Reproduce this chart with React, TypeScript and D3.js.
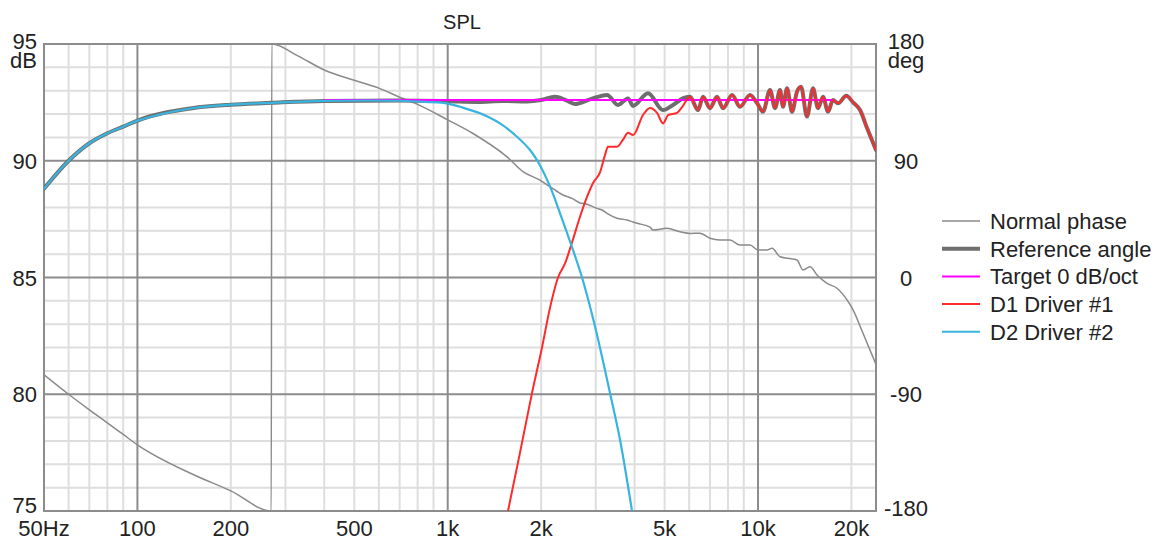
import React from "react";
import * as d3 from "d3";

const W = 1161;
const H = 541;

const freqTicks = [50, 100, 200, 500, 1000, 2000, 5000, 10000, 20000];
const freqTickLabels = ["50Hz", "100", "200", "500", "1k", "2k", "5k", "10k", "20k"];
const minorFreqs = [60, 70, 80, 90, 200, 300, 400, 500, 600, 700, 800, 900, 2000, 3000, 4000, 5000, 6000, 7000, 8000, 9000, 20000];
const majorFreqs = [100, 1000, 10000];
const splTicks = [95, 90, 85, 80, 75];
const phaseTicks = [180, 90, 0, -90, -180];
const majorSpl = [80, 85, 90];

const seriesNames = ["Normal phase", "Reference angle", "Target 0 dB/oct", "D1 Driver #1", "D2 Driver #2"];

// Normal phase [Hz, deg]
const normalPhase: [number, number][] = [
  [50, -75], [60, -90], [70, -102], [80, -112], [90, -121], [100, -129], [150, -151.5], [200, -164.5],
  [270, -180], [271, 180], [330, 170.7], [400, 160], [500, 152], [600, 146], [700, 139], [800, 133.5],
  [1000, 121.5], [1206, 111], [1553, 93], [1748, 81.6], [1984, 75], [2136, 70], [2352, 63.6], [2515, 61],
  [2669, 57.5], [2760, 57], [3028, 53.3], [3143, 52], [3261, 49.5], [3512, 45.7], [3782, 44.3], [3956, 42.8],
  [4074, 41.8], [4487, 38.9], [4587, 36.6], [5089, 37.9], [5606, 35.3], [6039, 34], [6503, 34.1], [7002, 30.2],
  [7544, 28.9], [8124, 28.9], [8750, 25], [9424, 25], [10000, 21.2], [10691, 21.2], [11095, 22.5], [11773, 16],
  [12494, 14.8], [13355, 13.5], [13964, 5.8], [14707, 8.3], [15494, 2], [16690, -4.5], [17970, -8.3],
  [19355, -17.3], [20241, -25], [21796, -43], [24000, -67],
];

// High-frequency part shared by reference sum and D1 [Hz, dB]
const highRipple: [number, number][] = [
  [6039, 92.74], [6407, 92.17], [6650, 92.74], [7002, 92.25], [7376, 92.74], [7714, 92.25], [8247, 92.82],
  [8750, 92.31], [9424, 92.82], [9926, 92.47], [10378, 92.1], [10932, 93.03], [11345, 92.25], [11773, 93.03],
  [12039, 92.31], [12401, 93.1], [12870, 92.1], [13355, 92.96], [13758, 93.17], [14383, 91.89], [15040, 93.1],
  [15609, 92.25], [16199, 92.74], [16811, 92.1], [17446, 92.6], [18104, 92.46], [19250, 92.78], [20241, 92.5],
  [21320, 92.17], [22456, 91.4], [24000, 90.46],
];

const referenceLow: [number, number][] = [
  [50, 88.8], [60, 90.0], [70, 90.75], [80, 91.18], [90, 91.46], [100, 91.72], [150, 92.25], [200, 92.4],
  [270, 92.48], [400, 92.56], [700, 92.58], [1000, 92.55], [1250, 92.52], [1500, 92.56], [1800, 92.54],
  [2000, 92.6], [2217, 92.74], [2400, 92.6], [2572, 92.43], [2875, 92.63], [3261, 92.82], [3538, 92.39],
  [3811, 92.67], [3956, 92.35], [4421, 92.89], [4942, 92.17], [5322, 92.39], [5800, 92.7],
];

const driver1Low: [number, number][] = [
  [1564, 75], [1710, 77.5], [1869, 80.05], [2013, 82.0], [2136, 83.7], [2267, 85.0], [2388, 85.6], [2515, 86.5],
  [2669, 87.6], [2811, 88.45], [2940, 89.05], [3096, 89.5], [3213, 90.25], [3285, 90.6], [3512, 90.6],
  [3672, 90.9], [3811, 91.2], [3956, 91.1], [4260, 91.96], [4487, 92.26], [4726, 92.05], [4942, 91.6],
  [5129, 91.95], [5483, 92.05], [5691, 92.3],
];

const driver2: [number, number][] = [
  [50, 88.8], [60, 90.0], [70, 90.75], [80, 91.18], [90, 91.46], [100, 91.72], [150, 92.25], [200, 92.4],
  [270, 92.48], [400, 92.56], [550, 92.58], [700, 92.57], [850, 92.52], [1000, 92.45], [1095, 92.31],
  [1271, 92.03], [1474, 91.6], [1672, 91.03], [1842, 90.46], [1984, 89.8], [2136, 88.9], [2301, 87.75],
  [2515, 86.3], [2709, 85.0], [2984, 82.9], [3334, 80.05], [3592, 78.04], [3926, 75.0],
];

const targetLevel = 92.6;
const targetRange = [400, 17446];

const referenceAngle = referenceLow.concat(highRipple);
const driver1 = driver1Low.concat(highRipple);
const target: [number, number][] = [[targetRange[0], targetLevel], [targetRange[1], targetLevel]];

const FONT = "'Liberation Sans', Arial, sans-serif";
const FS = 22;

export default function App() {
  const left = 44, right = 876, top = 44, bottom = 511;
  const x = d3.scaleLog().domain([50, 24000]).range([left, right]);
  const y = d3.scaleLinear().domain([75, 95]).range([bottom, top]);
  const yp = d3.scaleLinear().domain([-180, 180]).range([bottom, top]);

  const splLine = d3.line<[number, number]>().x(d => x(d[0])).y(d => y(d[1])).curve(d3.curveMonotoneX);
  const smoothLine = d3.line<[number, number]>().x(d => x(d[0])).y(d => y(d[1])).curve(d3.curveCatmullRom.alpha(0.5));
  const phaseLine = d3.line<[number, number]>().x(d => x(d[0])).y(d => yp(d[1])).curve(d3.curveMonotoneX);

  const minorSpl = d3.range(76, 95).filter(v => !majorSpl.includes(v));

  const legendColors = ["#8a8a8a", "#6e6e6e", "#ff00ff", "#ff2a2a", "#38b4df"];
  const legendWidths = [1.5, 4, 2, 2, 2];

  const leftLabelY = (v: number) => (v === 75 ? y(v) + 2 : y(v) + 8);
  const rightLabelY = (v: number) => (v === -180 ? yp(v) + 5 : yp(v) + 8);

  return (
    <svg width={W} height={H} style={{ position: "absolute", left: 0, top: 0, background: "#fff" }}>
      <defs>
        <clipPath id="plot">
          <rect x={left} y={top} width={right - left} height={bottom - top} />
        </clipPath>
      </defs>
      <rect x={0} y={0} width={W} height={H} fill="#fff" />
      {/* minor grid */}
      {minorFreqs.map(f => (
        <line key={"vf" + f} x1={x(f)} x2={x(f)} y1={top} y2={bottom} stroke="#dedede" strokeWidth={2} />
      ))}
      {minorSpl.map(v => (
        <line key={"hs" + v} x1={left} x2={right} y1={y(v)} y2={y(v)} stroke="#dedede" strokeWidth={2} />
      ))}
      {/* major grid */}
      {majorFreqs.map(f => (
        <line key={"vm" + f} x1={x(f)} x2={x(f)} y1={top} y2={bottom} stroke="#8c8c8c" strokeWidth={2} />
      ))}
      {majorSpl.map(v => (
        <line key={"hm" + v} x1={left} x2={right} y1={y(v)} y2={y(v)} stroke="#8c8c8c" strokeWidth={2} />
      ))}
      <rect x={left} y={top} width={right - left} height={bottom - top} fill="none" stroke="#8c8c8c" strokeWidth={2} />

      <g clipPath="url(#plot)" fill="none" strokeLinejoin="round" strokeLinecap="round">
        <path d={phaseLine(normalPhase) || ""} stroke="#8a8a8a" strokeWidth={1.5} />
        <path d={splLine(referenceAngle) || ""} stroke="#6e6e6e" strokeWidth={4} />
        <path d={splLine(target) || ""} stroke="#ff00ff" strokeWidth={2} />
        <path d={splLine(driver1) || ""} stroke="#ff2a2a" strokeWidth={2} />
        <path d={smoothLine(driver2) || ""} stroke="#38b4df" strokeWidth={2.2} />
      </g>

      {/* title */}
      <text x={(left + right) / 2 + 2} y={29} textAnchor="middle" fontFamily={FONT} fontSize={20} fill="#222">SPL</text>

      {/* left axis */}
      {splTicks.map(v =>
        v === 95 ? (
          <text key={"l" + v} x={37} y={y(v) + 5} textAnchor="end" fontFamily={FONT} fontSize={FS} fill="#222">
            <tspan x={37}>{v}</tspan>
            <tspan x={37} dy={19}>dB</tspan>
          </text>
        ) : (
          <text key={"l" + v} x={37} y={leftLabelY(v)} textAnchor="end"
            fontFamily={FONT} fontSize={FS} fill="#222">{v}</text>
        )
      )}

      {/* right axis */}
      {phaseTicks.map(v =>
        v === 180 ? (
          <text key={"r" + v} x={906} y={yp(v) + 5} textAnchor="middle" fontFamily={FONT} fontSize={FS} fill="#222">
            <tspan x={906}>{v}</tspan>
            <tspan x={906} dy={19}>deg</tspan>
          </text>
        ) : (
          <text key={"r" + v} x={906} y={rightLabelY(v)} textAnchor="middle"
            fontFamily={FONT} fontSize={FS} fill="#222">{v}</text>
        )
      )}

      {/* bottom axis */}
      {freqTicks.map((f, i) => (
        <text key={"b" + f} x={x(f)} y={536} textAnchor="middle" fontFamily={FONT} fontSize={FS} fill="#222">
          {freqTickLabels[i]}
        </text>
      ))}

      {/* legend */}
      {seriesNames.map((name, i) => (
        <g key={name}>
          <line x1={942} x2={980} y1={221 + i * 27.7} y2={221 + i * 27.7} stroke={legendColors[i]} strokeWidth={legendWidths[i]} />
          <text x={990} y={229 + i * 27.7} fontFamily={FONT} fontSize={FS} fill="#222">{name}</text>
        </g>
      ))}
    </svg>
  );
}
